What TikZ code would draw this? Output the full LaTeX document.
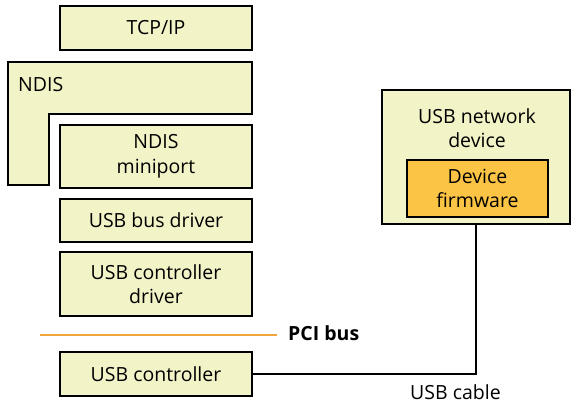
\documentclass[tikz,border=0pt]{standalone}
\usepackage{fontspec}
\setmainfont{Open Sans}
\definecolor{boxfill}{HTML}{F2F3C6}
\definecolor{fwfill}{HTML}{FBC444}
\definecolor{busline}{HTML}{F0A43A}
\begin{document}
\begin{tikzpicture}[x=1pt,y=-1pt,
  lay/.style={draw=black,line width=2pt,fill=boxfill,inner sep=0pt,align=center,font=\fontsize{19.5}{24.5}\selectfont},
  lbl/.style={inner sep=0pt,font=\fontsize{19.5}{24.5}\selectfont}]
\useasboundingbox (0,0) rectangle (572,405);
\node[lay,minimum width=192,minimum height=44] (tcp) at (156,28) {TCP/IP};
\draw[line width=2pt,fill=boxfill] (8,62) -- (252,62) -- (252,114) -- (49,114) -- (49,185) -- (8,185) -- cycle;
\node[lbl,anchor=west] (ndis) at (18,85) {NDIS};
\node[lay,minimum width=192,minimum height=63] (mini) at (156,156.5) {NDIS\\miniport};
\node[lay,minimum width=192,minimum height=43] (bus) at (156,220.5) {USB bus driver};
\node[lay,minimum width=192,minimum height=64] (hcd) at (156,284) {USB controller\\driver};
\coordinate (pciL) at (40,335);
\coordinate (pciR) at (277,335);
\draw[busline,line width=2.2pt] (pciL) -- (pciR);
\node[lbl,anchor=west,font=\fontsize{19.5}{24.5}\selectfont\bfseries] (pci) at (288,333) {PCI bus};
\node[lay,minimum width=192,minimum height=44] (ctrl) at (156,374) {USB controller};
\node[lay,minimum width=188,minimum height=134] (dev) at (476,157) {};
\node[lbl,align=center] (devlbl) at (477,128) {USB network\\device};
\node[lay,fill=fwfill,minimum width=141,minimum height=57] (fw) at (477.5,188.5) {Device\\firmware};
\draw[line width=2pt] (ctrl.east) -| (dev.south);
\node[lbl,anchor=west] (cable) at (410,392) {USB cable};
\end{tikzpicture}
\end{document}
